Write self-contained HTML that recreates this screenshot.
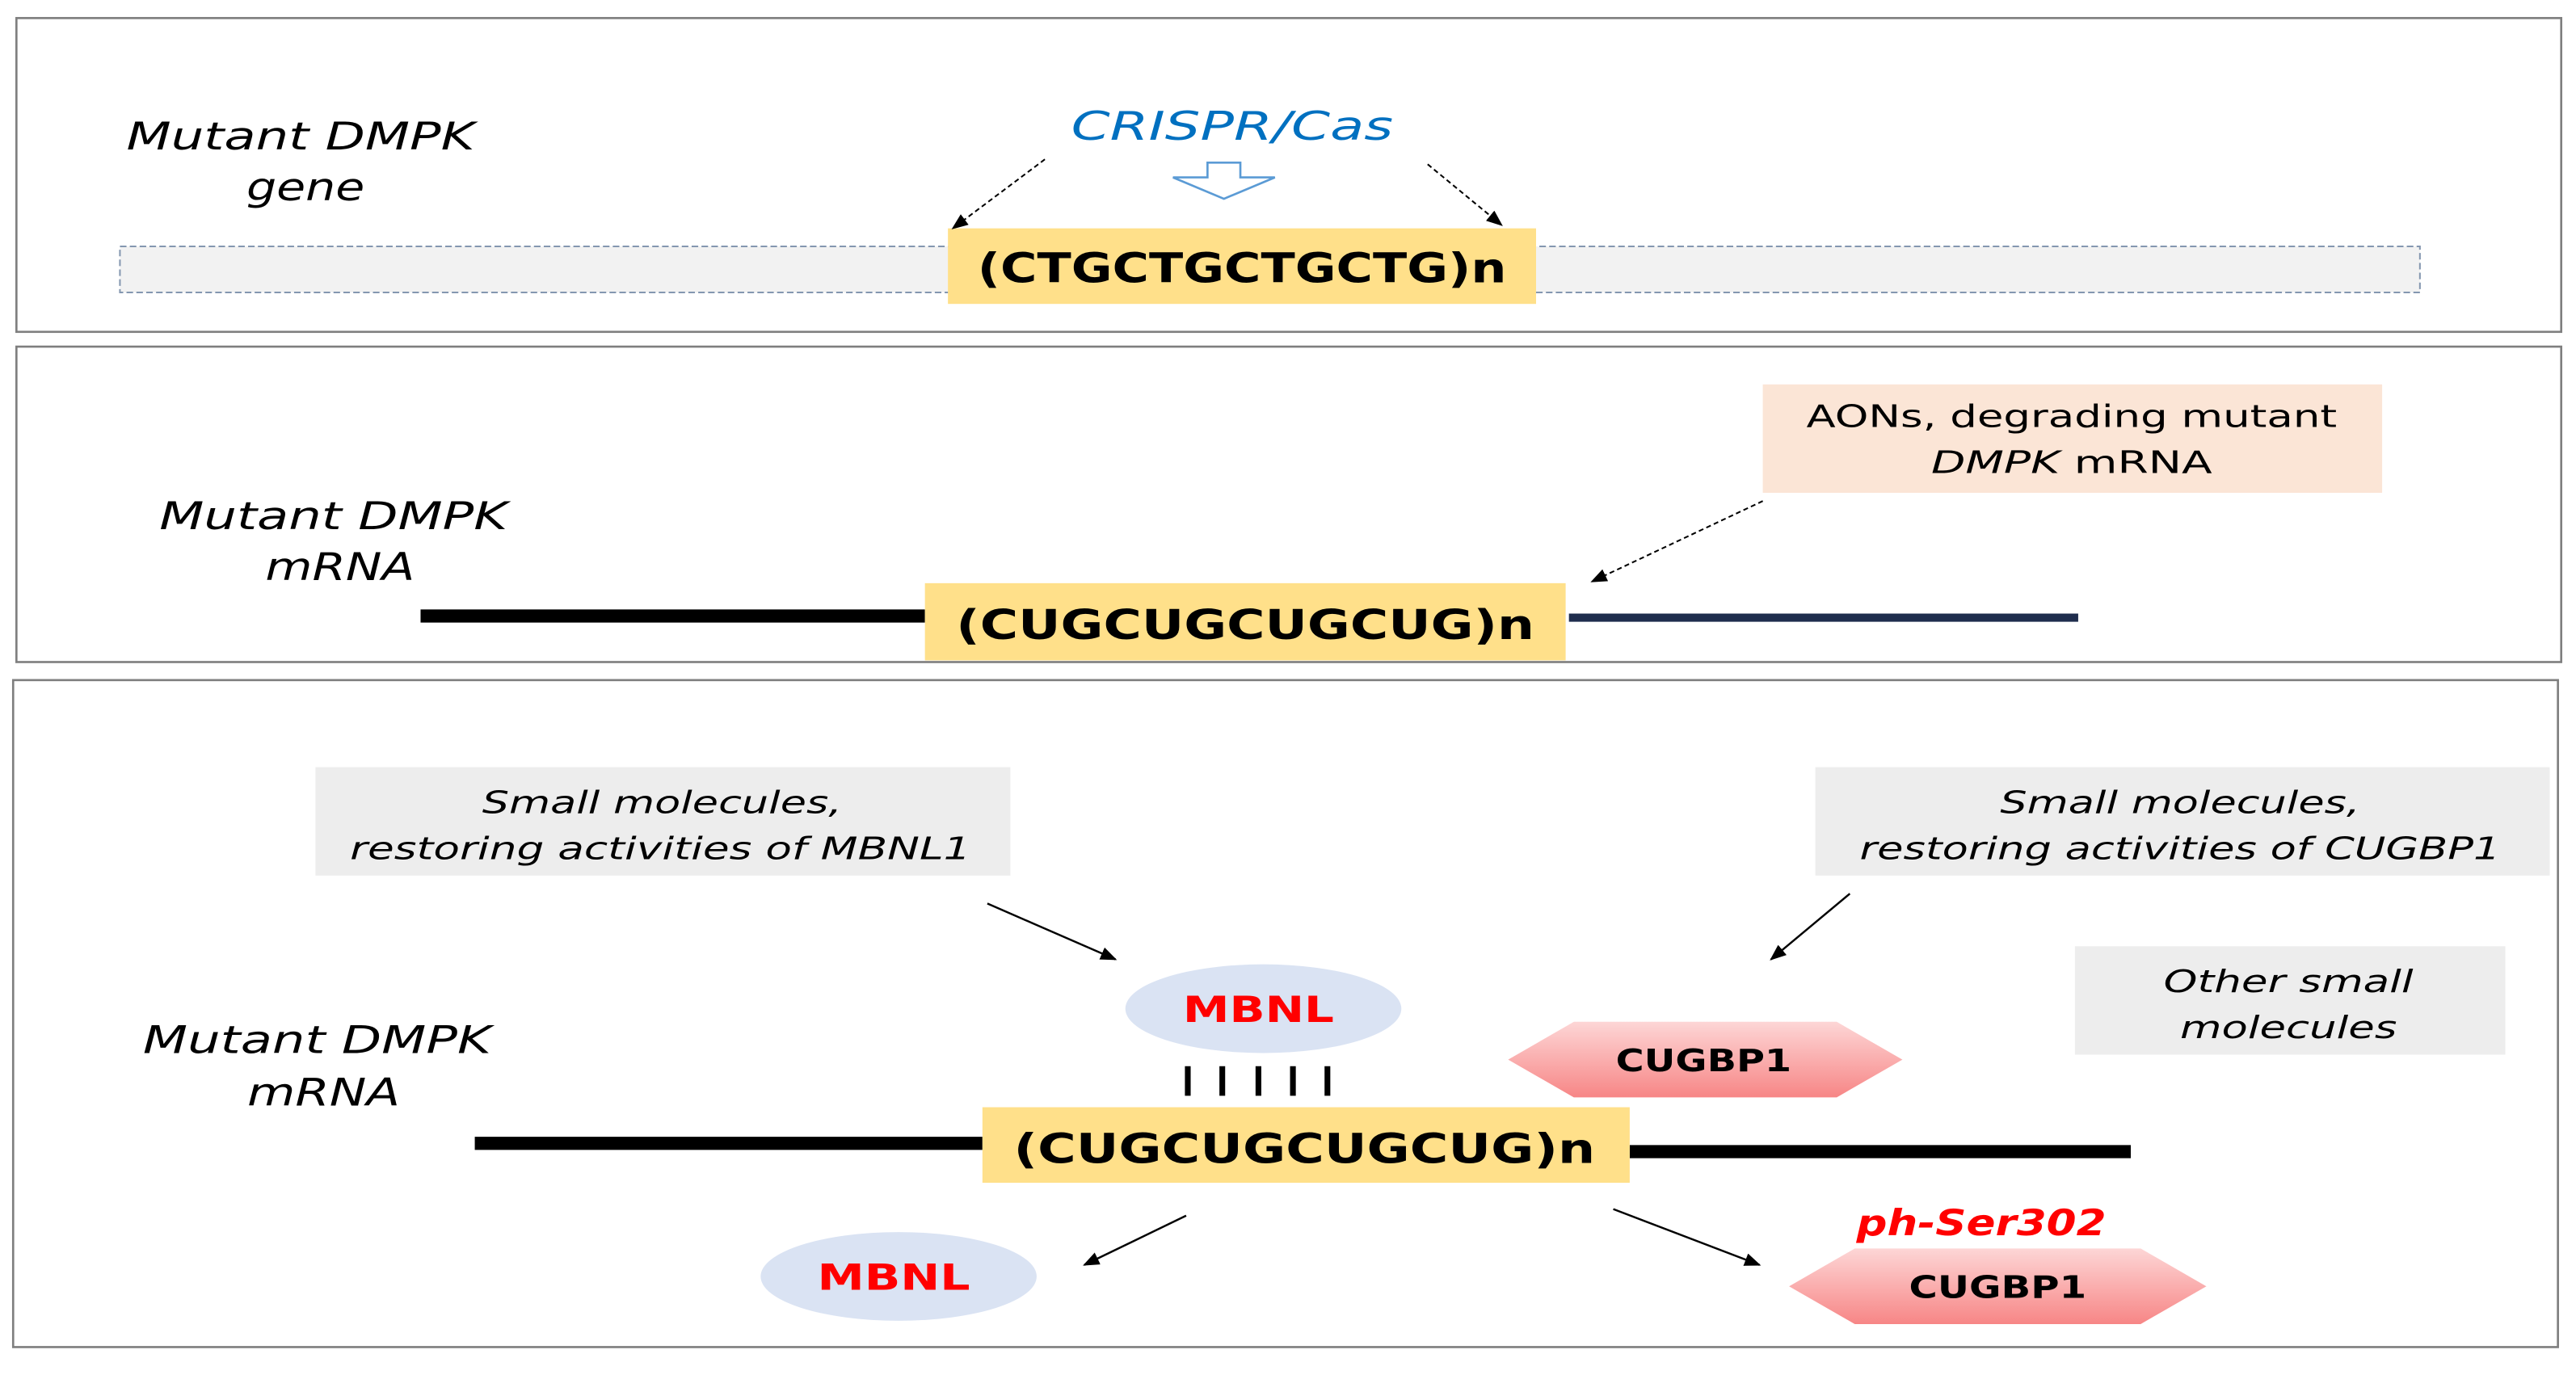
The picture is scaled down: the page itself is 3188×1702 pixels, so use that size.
<!DOCTYPE html>
<html><head><meta charset="utf-8"><style>html,body{margin:0;padding:0;background:#fff}svg{display:block}</style></head>
<body>
<svg width="3188" height="1702" viewBox="0 0 1568 837" preserveAspectRatio="none" xmlns="http://www.w3.org/2000/svg" font-family="'DejaVu Sans','Liberation Sans',sans-serif">
<defs>
<marker id="ah" markerWidth="10" markerHeight="8" refX="9" refY="4" orient="auto" markerUnits="userSpaceOnUse"><path d="M0,0 L10,4 L0,8 z" fill="#000"/></marker>
<linearGradient id="pg" x1="0" y1="0" x2="0" y2="1"><stop offset="0" stop-color="#fdd6d6"/><stop offset="1" stop-color="#f78686"/></linearGradient>
</defs>
<rect x="0" y="0" width="1568" height="837" fill="#fff"/>
<rect x="10" y="11" width="1549" height="191" fill="#fff" stroke="#7f7f7f" stroke-width="1.3"/>
<rect x="10" y="211" width="1549" height="192" fill="#fff" stroke="#7f7f7f" stroke-width="1.3"/>
<rect x="8" y="414" width="1549" height="406" fill="#fff" stroke="#7f7f7f" stroke-width="1.3"/>

<!-- panel 1 -->
<g font-style="italic" font-size="23" fill="#000" text-anchor="middle">
<text x="183" y="91" textLength="212" lengthAdjust="spacingAndGlyphs">Mutant DMPK</text>
<text x="186" y="122" textLength="72" lengthAdjust="spacingAndGlyphs">gene</text>
</g>
<rect x="73" y="150" width="1400" height="28" fill="#f2f2f2" stroke="#8497b0" stroke-width="1" stroke-dasharray="4,2"/>
<rect x="577" y="139" width="358" height="46" fill="#ffe08a"/>
<text x="756" y="172" font-size="25" font-weight="bold" text-anchor="middle" textLength="322" lengthAdjust="spacingAndGlyphs">(CTGCTGCTGCTG)n</text>
<text x="750" y="85" font-size="24" font-style="italic" fill="#0070c0" text-anchor="middle" textLength="196" lengthAdjust="spacingAndGlyphs">CRISPR/Cas</text>
<path d="M735,99 L755,99 L755,108 L776,108 L745,121 L714,108 L735,108 Z" fill="#fff" stroke="#5b9bd5" stroke-width="1.3"/>
<line x1="636" y1="97" x2="580" y2="139" stroke="#000" stroke-width="1" stroke-dasharray="3,2" marker-end="url(#ah)"/>
<line x1="869" y1="100" x2="914" y2="137" stroke="#000" stroke-width="1" stroke-dasharray="3,2" marker-end="url(#ah)"/>

<!-- panel 2 -->
<rect x="1073" y="234" width="377" height="66" fill="#fbe5d6"/>
<text x="1261" y="260" font-size="19" text-anchor="middle" textLength="323" lengthAdjust="spacingAndGlyphs">AONs, degrading mutant</text>
<text x="1261" y="288" font-size="19" text-anchor="middle" textLength="171" lengthAdjust="spacingAndGlyphs"><tspan font-style="italic">DMPK</tspan> mRNA</text>
<g font-style="italic" font-size="23" text-anchor="middle">
<text x="203" y="322" textLength="212" lengthAdjust="spacingAndGlyphs">Mutant DMPK</text>
<text x="207" y="353" textLength="91" lengthAdjust="spacingAndGlyphs">mRNA</text>
</g>
<line x1="256" y1="375" x2="563" y2="375" stroke="#000" stroke-width="8"/>
<line x1="955" y1="376" x2="1265" y2="376" stroke="#1f2d4d" stroke-width="5"/>
<rect x="563" y="355" width="390" height="47" fill="#ffe08a"/>
<text x="758" y="389" font-size="25" font-weight="bold" text-anchor="middle" textLength="352" lengthAdjust="spacingAndGlyphs">(CUGCUGCUGCUG)n</text>
<line x1="1073" y1="305" x2="969" y2="354" stroke="#000" stroke-width="1" stroke-dasharray="3,2" marker-end="url(#ah)"/>

<!-- panel 3 -->
<rect x="192" y="467" width="423" height="66" fill="#ededed"/>
<g font-style="italic" font-size="19" text-anchor="middle">
<text x="403" y="495" textLength="219" lengthAdjust="spacingAndGlyphs">Small molecules,</text>
<text x="402" y="523" textLength="378" lengthAdjust="spacingAndGlyphs">restoring activities of MBNL1</text>
</g>
<rect x="1105" y="467" width="447" height="66" fill="#ededed"/>
<g font-style="italic" font-size="19" text-anchor="middle">
<text x="1327" y="495" textLength="219" lengthAdjust="spacingAndGlyphs">Small molecules,</text>
<text x="1327" y="523" textLength="390" lengthAdjust="spacingAndGlyphs">restoring activities of CUGBP1</text>
</g>
<rect x="1263" y="576" width="262" height="66" fill="#ededed"/>
<g font-style="italic" font-size="19" text-anchor="middle">
<text x="1393" y="604" textLength="152" lengthAdjust="spacingAndGlyphs">Other small</text>
<text x="1393" y="632" textLength="132" lengthAdjust="spacingAndGlyphs">molecules</text>
</g>
<line x1="601" y1="550" x2="679" y2="584" stroke="#000" stroke-width="1.2" marker-end="url(#ah)"/>
<line x1="1126" y1="544" x2="1078" y2="584" stroke="#000" stroke-width="1.2" marker-end="url(#ah)"/>
<ellipse cx="769" cy="614" rx="84" ry="27" fill="#dae3f3"/>
<text x="766" y="622" font-size="22" font-weight="bold" fill="#ff0000" text-anchor="middle" textLength="92" lengthAdjust="spacingAndGlyphs">MBNL</text>
<g stroke="#000" stroke-width="3.5">
<line x1="723" y1="649" x2="723" y2="667"/><line x1="744" y1="649" x2="744" y2="667"/><line x1="766" y1="649" x2="766" y2="667"/><line x1="787" y1="649" x2="787" y2="667"/><line x1="808" y1="649" x2="808" y2="667"/>
</g>
<polygon points="918,645 958,622 1118,622 1158,645 1118,668 958,668" fill="url(#pg)"/>
<text x="1037" y="652" font-size="19" font-weight="bold" text-anchor="middle" textLength="107" lengthAdjust="spacingAndGlyphs">CUGBP1</text>
<g font-style="italic" font-size="23" text-anchor="middle">
<text x="193" y="641" textLength="212" lengthAdjust="spacingAndGlyphs">Mutant DMPK</text>
<text x="197" y="673" textLength="93" lengthAdjust="spacingAndGlyphs">mRNA</text>
</g>
<line x1="289" y1="696" x2="598" y2="696" stroke="#000" stroke-width="8"/>
<line x1="992" y1="701" x2="1297" y2="701" stroke="#000" stroke-width="8"/>
<rect x="598" y="674" width="394" height="46" fill="#ffe08a"/>
<text x="794" y="708" font-size="25" font-weight="bold" text-anchor="middle" textLength="354" lengthAdjust="spacingAndGlyphs">(CUGCUGCUGCUG)n</text>
<line x1="722" y1="740" x2="660" y2="770" stroke="#000" stroke-width="1.2" marker-end="url(#ah)"/>
<ellipse cx="547" cy="777" rx="84" ry="27" fill="#dae3f3"/>
<text x="544" y="785" font-size="22" font-weight="bold" fill="#ff0000" text-anchor="middle" textLength="93" lengthAdjust="spacingAndGlyphs">MBNL</text>
<line x1="982" y1="736" x2="1071" y2="770" stroke="#000" stroke-width="1.2" marker-end="url(#ah)"/>
<text x="1206" y="752" font-size="22" font-weight="bold" font-style="italic" fill="#ff0000" text-anchor="middle" textLength="152" lengthAdjust="spacingAndGlyphs">ph-Ser302</text>
<polygon points="1089,783 1129,760 1303,760 1343,783 1303,806 1129,806" fill="url(#pg)"/>
<text x="1216" y="790" font-size="19" font-weight="bold" text-anchor="middle" textLength="108" lengthAdjust="spacingAndGlyphs">CUGBP1</text>
</svg>
</body></html>
